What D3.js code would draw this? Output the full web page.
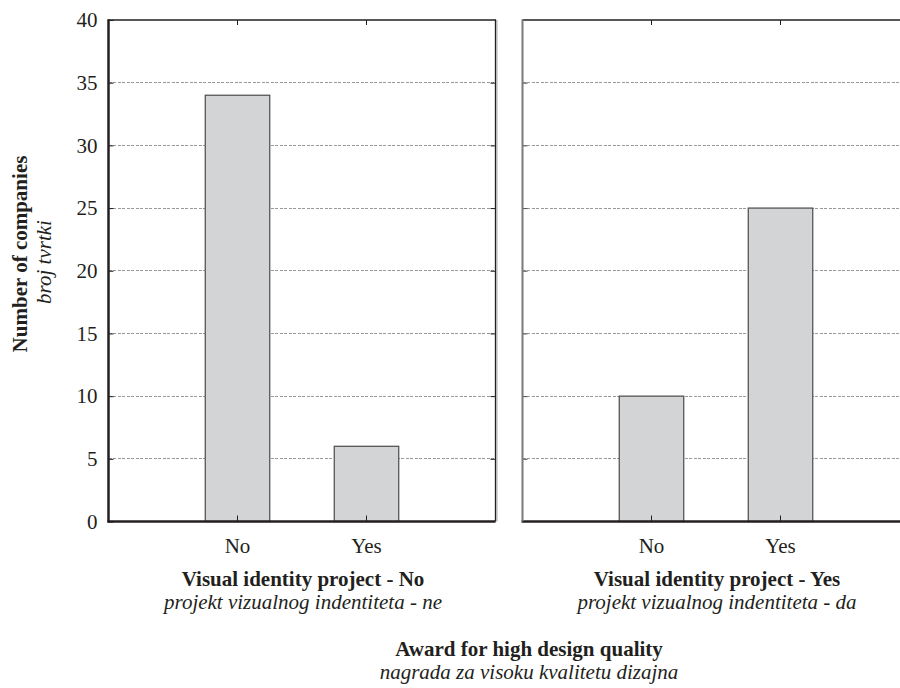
<!DOCTYPE html>
<html><head><meta charset="utf-8">
<script src="https://cdn.jsdelivr.net/npm/d3@7"></script>
<style>body{margin:0;background:#fff}svg{display:block}text{font-family:"Liberation Serif","Times New Roman",serif;fill:#231f20}</style>
</head><body><svg id="c" width="900" height="688"></svg>
<script>
const categories = ["No", "Yes"];
const panels = ["Visual identity project - No", "Visual identity project - Yes"];
const panelsHr = ["projekt vizualnog indentiteta - ne", "projekt vizualnog indentiteta - da"];
const valuesNo = [34, 6];
const valuesYes = [10, 25];
const yTicks = [0, 5, 10, 15, 20, 25, 30, 35, 40];

(function(){
const svg = d3.select("#c");
const topY = 20, botY = 521.5, pw = 387;
const panelX = [108.5, 522.5];
const FS = 21;
const y = d3.scaleLinear().domain([0, 40]).range([botY, topY]);
const data = [valuesNo, valuesYes];

svg.append("defs").append("clipPath").attr("id","cl").append("rect").attr("x",0).attr("y",0).attr("width",900).attr("height",688);

panels.forEach((p, i) => {
  const x0 = panelX[i];
  const xb = d3.scaleBand().domain(categories).range([x0 + pw/6, x0 + pw*5/6]).paddingInner(0.5).paddingOuter(0.25);
  const g = svg.append("g").attr("clip-path","url(#cl)");
  g.selectAll(".grid").data(yTicks.filter(t => t > 0 && t < 40)).enter().append("line")
    .attr("x1", x0).attr("x2", x0 + pw).attr("y1", d => y(d)).attr("y2", d => y(d))
    .attr("stroke", "#9a9a9a").attr("stroke-width", 1).attr("stroke-dasharray", "3,1.5").attr("shape-rendering","crispEdges");
  g.selectAll(".bar").data(categories).enter().append("rect")
    .attr("x", d => xb(d)).attr("width", xb.bandwidth())
    .attr("y", (d, j) => y(data[i][j])).attr("height", (d, j) => y(0) - y(data[i][j]))
    .attr("fill", "#d3d4d6").attr("stroke", "#4a4a4a").attr("stroke-width", 1.2);
  g.append("line").attr("x1", x0).attr("x2", x0 + pw).attr("y1", topY).attr("y2", topY).attr("stroke", "#231f20").attr("stroke-width", 1.5);
  const xa = d3.axisBottom(xb).tickSize(-6).tickPadding(17).tickSizeOuter(0);
  const ag = g.append("g").attr("transform", `translate(0,${botY})`).call(xa);
  ag.select(".domain").remove();
  ag.selectAll(".tick line").attr("stroke", "#231f20");
  ag.selectAll(".tick text").attr("font-size", FS).attr("fill", "#231f20").attr("font-family","Liberation Serif").attr("dy", "0.71em");
  g.append("line").attr("x1", x0 - 1).attr("x2", x0 + pw).attr("y1", botY).attr("y2", botY).attr("stroke", "#231f20").attr("stroke-width", 2.5);
  g.selectAll(".tt").data(categories).enter().append("line")
    .attr("x1", d => xb(d) + xb.bandwidth()/2).attr("x2", d => xb(d) + xb.bandwidth()/2)
    .attr("y1", topY).attr("y2", topY + 5).attr("stroke", "#231f20");
  if (i === 0) {
    const ya = d3.axisLeft(y).tickValues(yTicks).tickSize(-5).tickPadding(11).tickSizeOuter(0);
    const yg = svg.append("g").attr("transform", `translate(${x0},0)`).call(ya);
    yg.select(".domain").remove();
    yg.selectAll(".tick line").attr("stroke", "#231f20");
    yg.selectAll(".tick text").attr("font-size", FS).attr("fill", "#231f20").attr("font-family","Liberation Serif");
    svg.append("line").attr("x1", x0).attr("x2", x0).attr("y1", topY - 0.7).attr("y2", botY + 1).attr("stroke", "#231f20").attr("stroke-width", 2.5);
    const ra = d3.axisRight(y).tickValues(yTicks.filter(t=>t>0&&t<40)).tickSize(-5).tickFormat("");
    const rg = svg.append("g").attr("transform", `translate(${x0 + pw},0)`).call(ra);
    rg.select(".domain").remove();
    rg.selectAll(".tick line").attr("stroke", "#231f20");
    svg.append("line").attr("x1", x0 + pw + 1.5).attr("x2", x0 + pw + 1.5).attr("y1", topY).attr("y2", botY).attr("stroke", "#c8c8c8").attr("stroke-width", 1.5);
    svg.append("line").attr("x1", x0 + pw).attr("x2", x0 + pw).attr("y1", topY - 0.7).attr("y2", botY).attr("stroke", "#231f20").attr("stroke-width", 1.3);
  } else {
    const la = d3.axisLeft(y).tickValues(yTicks.filter(t=>t>0&&t<40)).tickSize(-5).tickFormat("");
    const lg = svg.append("g").attr("transform", `translate(${x0},0)`).call(la);
    lg.select(".domain").remove();
    lg.selectAll(".tick line").attr("stroke", "#555");
    svg.append("line").attr("x1", x0).attr("x2", x0).attr("y1", topY - 0.7).attr("y2", botY).attr("stroke", "#7a7a7a").attr("stroke-width", 2);
  }
  const cx = i === 0 ? 303 : 717;
  svg.append("text").attr("x", cx).attr("y", 586).attr("text-anchor","middle").attr("font-size",FS).attr("font-weight","bold").text(p);
  svg.append("text").attr("x", cx).attr("y", 609).attr("text-anchor","middle").attr("font-size",FS).attr("font-style","italic").text(panelsHr[i]);
});

svg.append("text").attr("x", 529).attr("y", 656).attr("text-anchor","middle").attr("font-size",FS).attr("font-weight","bold").text("Award for high design quality");
svg.append("text").attr("x", 529).attr("y", 679).attr("text-anchor","middle").attr("font-size",FS).attr("font-style","italic").text("nagrada za visoku kvalitetu dizajna");

svg.append("text").attr("transform","translate(27,254) rotate(-90)").attr("text-anchor","middle").attr("font-size",FS).attr("font-weight","bold").text("Number of companies");
svg.append("text").attr("transform","translate(51,262) rotate(-90)").attr("text-anchor","middle").attr("font-size",FS).attr("font-style","italic").text("broj tvrtki");
})();
</script></body></html>
